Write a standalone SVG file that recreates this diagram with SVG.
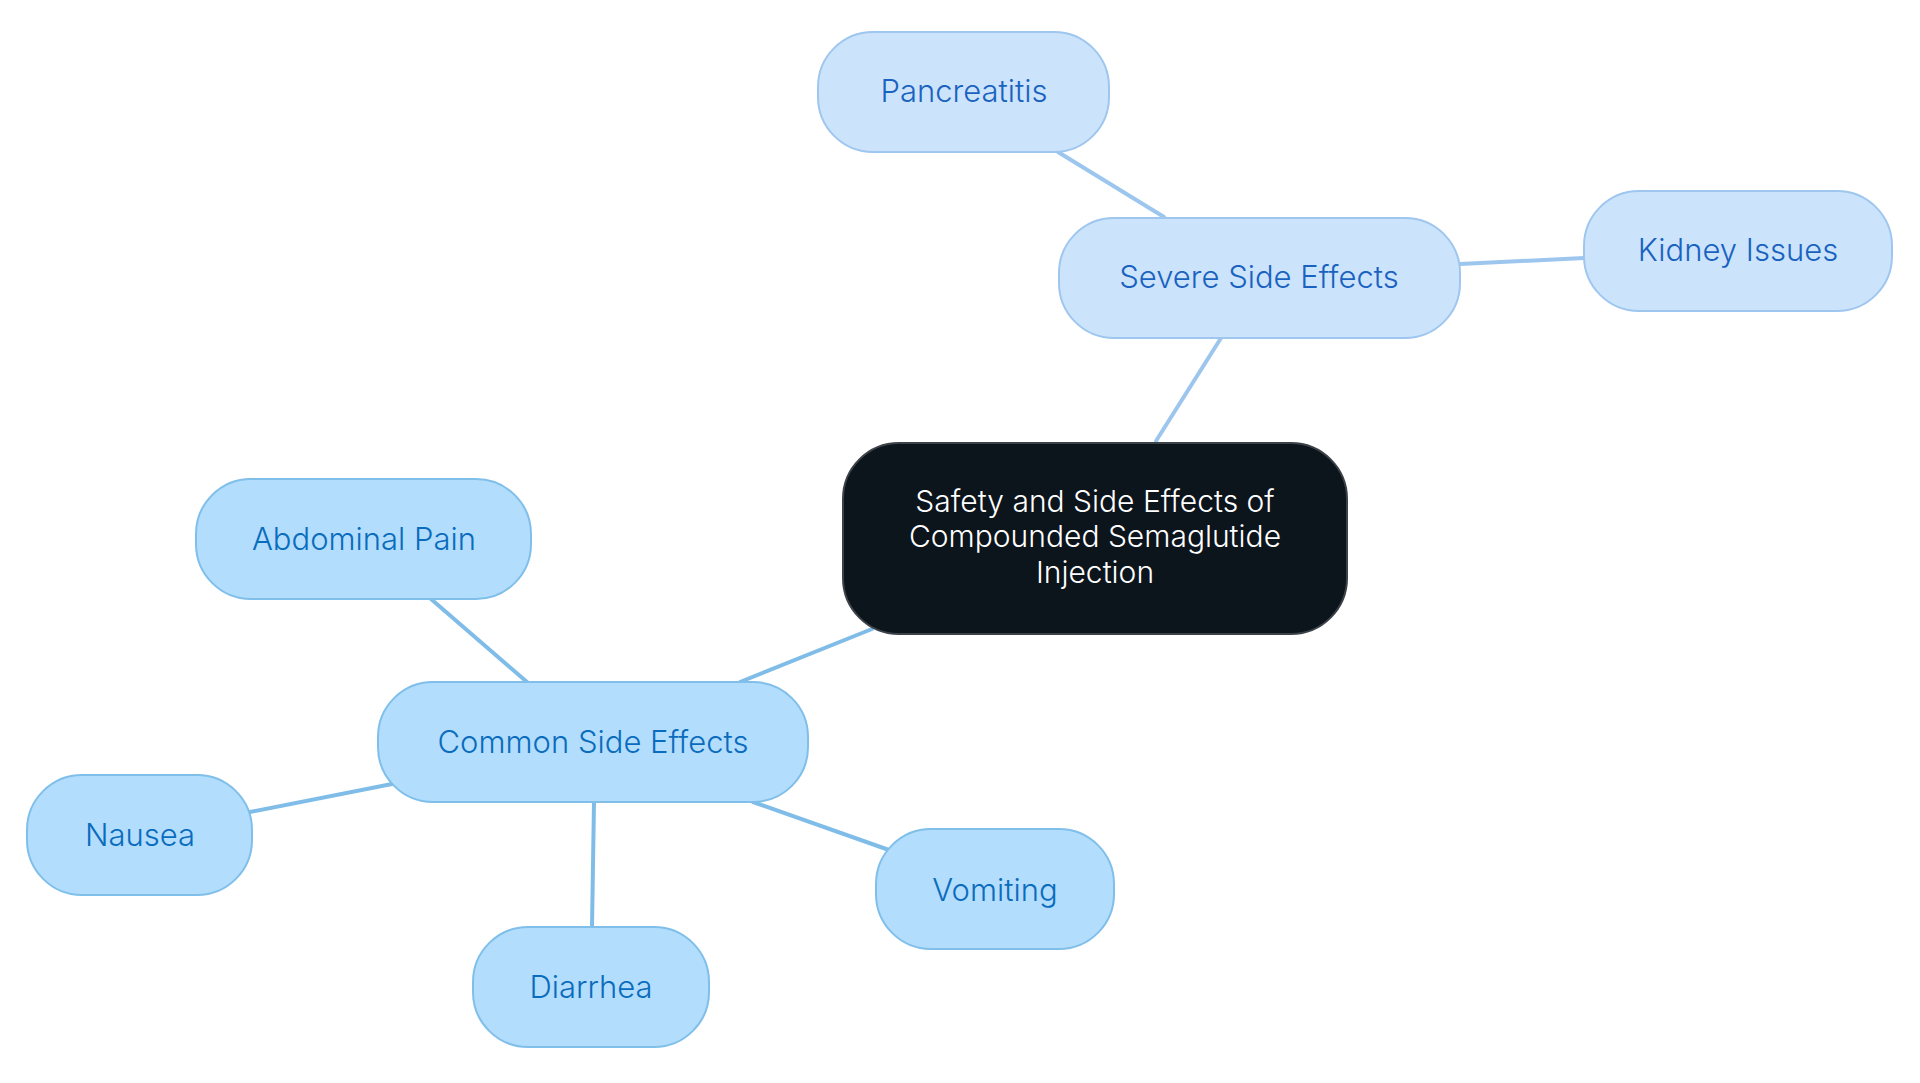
<svg xmlns="http://www.w3.org/2000/svg" width="1920" height="1083" viewBox="0 0 1920 1083">
<style>
.bg{fill:#ffffff}
.lineA{stroke:#9dc6ee;stroke-width:4;fill:none;stroke-linecap:round}
.lineB{stroke:#7fbde8;stroke-width:4;fill:none;stroke-linecap:round}
.root rect{fill:#0c141c;stroke:#3c4248;stroke-width:2}
.root text{fill:#ffffff;font-family:Inter,"Noto Sans",sans-serif;font-size:30px;font-weight:300;text-anchor:middle}
.sev rect{fill:#cce4fb;stroke:#9fc6ef;stroke-width:2}
.sev text{fill:#1a62c0;font-family:Inter,"Noto Sans",sans-serif;font-size:31px;font-weight:300;text-anchor:middle;dominant-baseline:central}
.com rect{fill:#b3ddfc;stroke:#7fbfea;stroke-width:2}
.com text{fill:#0a6cbc;font-family:Inter,"Noto Sans",sans-serif;font-size:31px;font-weight:300;text-anchor:middle;dominant-baseline:central}
</style>
<rect class="bg" x="0" y="0" width="1920" height="1083"/>
<g id="connectors">
<line class="lineA" x1="1156" y1="441" x2="1221" y2="338"/>
<line class="lineA" x1="1164" y1="217" x2="1058" y2="152"/>
<line class="lineA" x1="1460" y1="264" x2="1584" y2="258"/>
<line class="lineB" x1="872" y1="629" x2="740" y2="682"/>
<line class="lineB" x1="527" y1="682" x2="431" y2="599"/>
<line class="lineB" x1="392" y1="784" x2="250" y2="812"/>
<line class="lineB" x1="594" y1="802" x2="592" y2="927"/>
<line class="lineB" x1="753" y1="802" x2="889" y2="850"/>
</g>
<g id="root" class="root">
<rect x="843" y="443" width="504" height="191" rx="56"/>
<text x="1095" y="512">Safety and Side Effects of</text>
<text x="1095" y="547">Compounded Semaglutide</text>
<text x="1095" y="583">Injection</text>
</g>
<g id="severe" class="sev">
<rect x="1059" y="218" width="401" height="120" rx="55"/>
<text x="1259" y="276">Severe Side Effects</text>
</g>
<g id="pancreatitis" class="sev">
<rect x="818" y="32" width="291" height="120" rx="55"/>
<text x="964" y="90">Pancreatitis</text>
</g>
<g id="kidney" class="sev">
<rect x="1584" y="191" width="308" height="120" rx="55"/>
<text x="1738" y="249">Kidney Issues</text>
</g>
<g id="common" class="com">
<rect x="378" y="682" width="430" height="120" rx="55"/>
<text x="593" y="741">Common Side Effects</text>
</g>
<g id="abdominal" class="com">
<rect x="196" y="479" width="335" height="120" rx="55"/>
<text x="364" y="538">Abdominal Pain</text>
</g>
<g id="nausea" class="com">
<rect x="27" y="775" width="225" height="120" rx="55"/>
<text x="140" y="834">Nausea</text>
</g>
<g id="diarrhea" class="com">
<rect x="473" y="927" width="236" height="120" rx="55"/>
<text x="591" y="986">Diarrhea</text>
</g>
<g id="vomiting" class="com">
<rect x="876" y="829" width="238" height="120" rx="55"/>
<text x="995" y="889">Vomiting</text>
</g>
</svg>
